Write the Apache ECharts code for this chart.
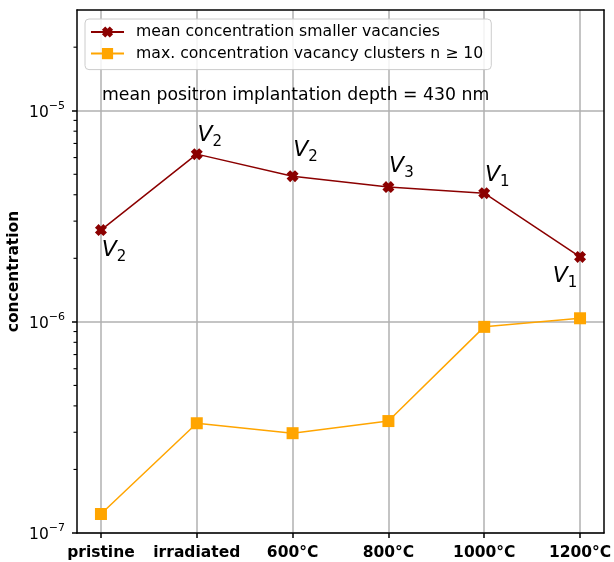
<!DOCTYPE html>
<html>
<head>
<meta charset="utf-8">
<script src="https://cdn.jsdelivr.net/npm/echarts@6/dist/echarts.min.js"></script>
<style>
    html, body { margin: 0; padding: 0; background: #fff; }
    #chart { width: 614px; height: 562px; }
</style>
</head>
<body>
<div id="chart"></div>
<script>
    // data
    const categories = ['pristine', 'irradiated', '600°C', '800°C', '1000°C', '1200°C']
    const smallVacancies = [2.72e-6, 6.23e-6, 4.90e-6, 4.35e-6, 4.07e-6, 2.03e-6]
    const clusterConc = [1.23e-7, 3.31e-7, 2.97e-7, 3.39e-7, 9.47e-7, 1.04e-6]
    const vacancyType = ['2', '2', '2', '3', '1', '1']
    const majorTicks = [1e-7, 1e-6, 1e-5]
    const minorTicks = []
    for (let e = -7; e <= -5; e++) {
        for (let m = 2; m <= 9; m++) {
            const v = m * Math.pow(10, e)
            if (v <= 3e-5) minorTicks.push(v)
        }
    }

    // where each V label sits relative to its point (px)
    const labelOffsets = [[13, 22], [13, -17], [13, -24], [13, -19], [13, -16], [-15, 21]]

    const FONT = 'DejaVu Sans'
    const X_MIN = -0.25
    const X_MAX = 5.25
    const catIdx = categories.map((c, i) => i)

    const xMarker = 'path://M0,3 L3,0 L5,2 L7,0 L10,3 L8,5 L10,7 L7,10 L5,8 L3,10 L0,7 L2,5 Z'

    const chart = echarts.init(document.getElementById('chart'))

    const powLabel = (val) => {
        const e = val < 0 ? Math.round(val) : Math.round(Math.log10(val))
        return '{b|10}{e|−' + Math.abs(e) + '}'
    }

    const titleText = {
        type: 'text',
        left: 102,
        top: 87,
        style: { text: 'mean positron implantation depth = 430 nm', font: '17.3px "DejaVu Sans"', fill: '#000' }
    }

    chart.setOption({
        animation: false,
        grid: { left: 77, right: 10, top: 10, bottom: 29, containLabel: false, outerBoundsMode: 'none' },
        legend: {
            orient: 'vertical',
            left: 85,
            top: 19,
            backgroundColor: 'rgba(255,255,255,0.85)',
            borderColor: '#cccccc',
            borderWidth: 1,
            borderRadius: 4,
            padding: [5, 8, 8, 5],
            itemGap: 5.6,
            itemWidth: 33,
            itemHeight: 14,
            textStyle: { fontFamily: FONT, fontSize: 15.7, lineHeight: 16, color: '#000', padding: [0, 0, 0, 7] },
            data: ['mean concentration smaller vacancies', 'max. concentration vacancy clusters n ≥ 10']
        },
        graphic: [titleText],
        xAxis: [{
            type: 'value',
            min: X_MIN,
            max: X_MAX,
            axisLine: { onZero: false, lineStyle: { color: '#000', width: 1.5 } },
            axisTick: { length: 5, customValues: catIdx, lineStyle: { color: '#000', width: 1.5 } },
            axisLabel: {
                customValues: catIdx,
                margin: 12,
                fontFamily: FONT, fontSize: 15.5, fontWeight: 'bold', color: '#000',
                formatter: (v) => categories[Math.round(v)]
            },
            splitLine: { show: true, lineStyle: { color: '#b0b0b0', width: 1.5 } }
        }, {
            type: 'value',
            position: 'top',
            min: X_MIN,
            max: X_MAX,
            z: 5,
            axisLine: { show: true, onZero: false, lineStyle: { color: '#000', width: 1.5 } },
            axisTick: { show: false },
            axisLabel: { show: false },
            splitLine: { show: false }
        }],
        yAxis: [{
            type: 'log',
            logBase: 10,
            min: 1e-7,
            max: 3e-5,
            position: 'left',
            name: 'concentration',
            nameLocation: 'middle',
            nameGap: 55,
            nameMoveOverlap: false,
            nameTextStyle: { fontFamily: FONT, fontSize: 15.5, fontWeight: 'bold', color: '#000' },
            axisLine: { show: true, onZero: false, lineStyle: { color: '#000', width: 1.5 } },
            axisTick: { show: true, length: 5, customValues: majorTicks, lineStyle: { color: '#000', width: 1.5 } },
            axisLabel: {
                customValues: majorTicks,
                margin: 12,
                formatter: powLabel,
                rich: {
                    b: { fontFamily: FONT, fontSize: 15.5, color: '#000', lineHeight: 20, verticalAlign: 'bottom' },
                    e: { fontFamily: FONT, fontSize: 11, color: '#000', lineHeight: 11, verticalAlign: 'top' }
                }
            },
            splitLine: { show: true, lineStyle: { color: '#b0b0b0', width: 1.5 } }
        }, {
            type: 'log',
            logBase: 10,
            min: 1e-7,
            max: 3e-5,
            position: 'right',
            z: 5,
            axisLine: { show: true, onZero: false, lineStyle: { color: '#000', width: 1.5 } },
            axisTick: { show: false },
            axisLabel: { show: false },
            splitLine: { show: false }
        }],
        series: [{
            name: 'mean concentration smaller vacancies',
            type: 'line',
            symbol: xMarker,
            symbolSize: 12,
            color: '#8b0000',
            lineStyle: { width: 1.5, color: '#8b0000' },
            itemStyle: { color: '#8b0000' },
            z: 3,
            data: smallVacancies.map((v, i) => ({
                value: [i, v],
                label: {
                    show: true,
                    position: 'inside',
                    offset: labelOffsets[i],
                    formatter: '{v|V}{s|' + vacancyType[i] + '}',
                    rich: {
                        v: { fontFamily: FONT, fontSize: 22, fontStyle: 'italic', color: '#000', lineHeight: 22, verticalAlign: 'top' },
                        s: { fontFamily: FONT, fontSize: 15, color: '#000', lineHeight: 25, verticalAlign: 'bottom' }
                    }
                }
            }))
        }, {
            name: 'max. concentration vacancy clusters n ≥ 10',
            type: 'line',
            symbol: 'rect',
            symbolSize: 12,
            color: '#ffa500',
            lineStyle: { width: 1.5, color: '#ffa500' },
            itemStyle: { color: '#ffa500' },
            z: 2,
            data: clusterConc.map((v, i) => [i, v])
        }]
    })

    // minor ticks of the log axis, positioned through the axis scale
    const minorTickMarks = minorTicks.map(v => {
        const p = chart.convertToPixel({ xAxisIndex: 0, yAxisIndex: 0 }, [X_MIN, v])
        return {
            type: 'line',
            z: 100,
            shape: { x1: p[0] - 3.5, y1: p[1], x2: p[0], y2: p[1] },
            style: { stroke: '#000', lineWidth: 1.1 }
        }
    })
    chart.setOption({ graphic: [titleText].concat(minorTickMarks) }, { replaceMerge: ['graphic'] })
</script>
</body>
</html>
